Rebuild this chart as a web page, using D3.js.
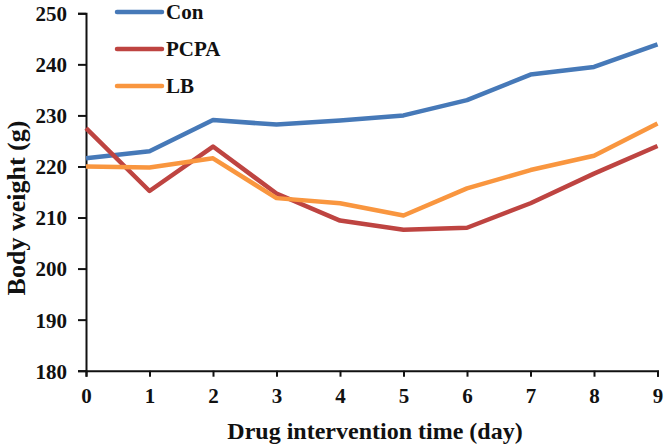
<!DOCTYPE html>
<html>
<head>
<meta charset="utf-8">
<script src="https://cdn.jsdelivr.net/npm/d3@7"></script>
<style>
  body { margin: 0; background: #fff; }
  svg text { font-family: "Liberation Serif", "Times New Roman", serif; font-weight: bold; fill: #111; }
</style>
</head>
<body>
<svg id="chart" width="668" height="446"></svg>
<script>
// data
var days = [0, 1, 2, 3, 4, 5, 6, 7, 8, 9];
var con  = [221.6, 223.0, 229.1, 228.2, 229.0, 230.0, 233.0, 238.0, 239.5, 243.9];
var pcpa = [227.5, 215.2, 223.9, 214.7, 209.4, 207.6, 208.0, 212.8, 218.6, 224.0];
var lb   = [220.0, 219.8, 221.6, 213.8, 212.8, 210.4, 215.7, 219.3, 222.1, 228.4];
var yTicks = [180, 190, 200, 210, 220, 230, 240, 250];

var series = [
    { name: "Con",  values: con,  color: "#4679B8" },
    { name: "PCPA", values: pcpa, color: "#BE4441" },
    { name: "LB",   values: lb,   color: "#F9963F" }
];

var svg = d3.select("#chart");

let scX = d3.scaleLinear().domain([0, 9]).range([86, 657.5]);
let scY = d3.scaleLinear().domain([180, 250]).range([370.7, 13.3]);

// axes
let axisX = svg.append("g")
    .attr("transform", `translate(0, ${scY(180)})`)
    .call(d3.axisBottom(scX).tickValues(days).tickSize(6).tickPadding(11).tickFormat(d3.format("d")));
let axisY = svg.append("g")
    .attr("transform", `translate(${scX(0)}, 0)`)
    .call(d3.axisLeft(scY).tickValues(yTicks).tickSize(8).tickPadding(11));

[axisX, axisY].forEach(ax => {
    ax.select(".domain").attr("stroke", "#111").attr("stroke-width", 2);
    ax.selectAll(".tick line").attr("stroke", "#111").attr("stroke-width", 2);
    ax.selectAll(".tick text").style("font-size", "21px").attr("fill", "#111");
});
axisY.selectAll(".tick text").attr("dy", "0.35em");

// lines
let line = d3.line()
    .x((d, i) => scX(days[i]))
    .y(d => scY(d));

series.forEach(s => {
    svg.append("path")
        .datum(s.values)
        .attr("fill", "none")
        .attr("stroke", s.color)
        .attr("stroke-width", 4.5)
        .attr("stroke-linejoin", "round")
        .attr("d", line);
});

// legend
series.forEach((s, i) => {
    let y = 12 + i * 37;
    svg.append("line")
        .attr("x1", 117).attr("x2", 162)
        .attr("y1", y).attr("y2", y)
        .attr("stroke", s.color)
        .attr("stroke-width", 4.5)
        .attr("stroke-linecap", "round");
    svg.append("text")
        .attr("x", 166).attr("y", y + 7)
        .style("font-size", "21px")
        .text(s.name);
});

// axis titles
svg.append("text")
    .attr("x", 375).attr("y", 439)
    .attr("text-anchor", "middle")
    .style("font-size", "24px")
    .text("Drug intervention time (day)");

svg.append("text")
    .attr("transform", `translate(25, ${(scY(180) + scY(250)) / 2 + 16}) rotate(-90)`)
    .attr("text-anchor", "middle")
    .style("font-size", "26px")
    .text("Body weight (g)");
</script>
</body>
</html>
